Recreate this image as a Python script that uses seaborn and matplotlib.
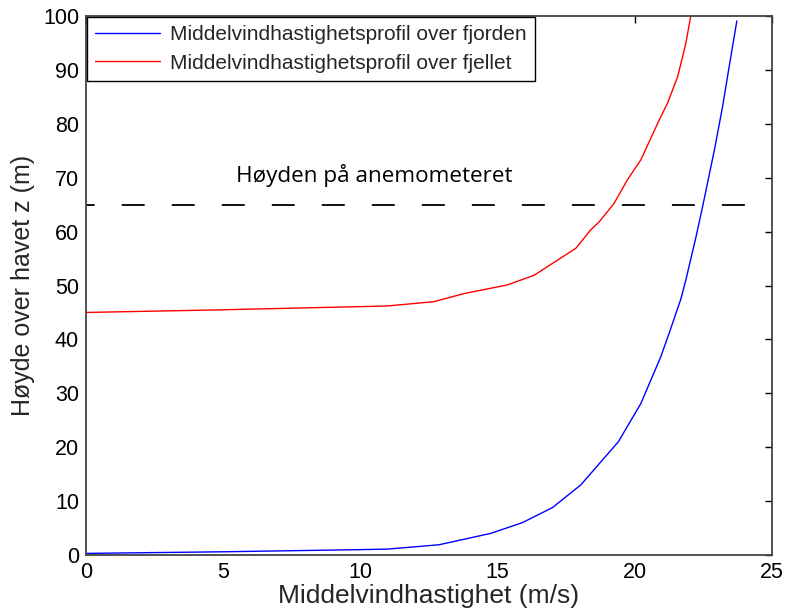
import matplotlib
matplotlib.use("Agg")
import matplotlib.pyplot as plt
import seaborn as sns
import pandas as pd

# Mean wind speed profiles (m/s) against height above sea level (m)
fjord_speed = [0, 5, 10, 11, 12.86, 14.74, 15.9, 17.0, 18.03, 18.51, 19.4, 20.22,
               20.95, 21.31, 21.68, 21.86, 22.23, 22.47, 22.9, 23.2, 23.44, 23.72]
fjord_height = [0.3, 0.6, 1.0, 1.1, 1.9, 4.0, 6.0, 8.8, 13.0, 15.8, 21.0, 28.1,
                36.8, 42.0, 47.5, 51.0, 59.0, 64.6, 75.1, 83.2, 90.6, 99.1]

mountain_speed = [0, 5, 10.97, 12.68, 13.77, 15.35, 16.33, 17.0, 17.85, 18.39, 18.7,
                  19.24, 19.73, 20.22, 20.89, 21.19, 21.56, 21.86, 22.04]
mountain_height = [45.0, 45.5, 46.2, 47.0, 48.5, 50.1, 51.9, 54.1, 56.9, 60.3, 61.8,
                   65.2, 69.6, 73.3, 80.7, 83.8, 88.7, 94.9, 100.0]

labels = ["Middelvindhastighetsprofil over fjorden",
          "Middelvindhastighetsprofil over fjellet"]
anemometer_height = 65
anemometer_text = "Høyden på anemometeret"
x_ticks = [0, 5, 10, 15, 20, 25]
y_ticks = [0, 10, 20, 30, 40, 50, 60, 70, 80, 90, 100]

sns.set_theme(style="white")
plt.rcParams["font.family"] = ["Liberation Sans", "DejaVu Sans"]

df = pd.concat([
    pd.DataFrame({"speed": fjord_speed, "height": fjord_height, "profil": labels[0]}),
    pd.DataFrame({"speed": mountain_speed, "height": mountain_height, "profil": labels[1]}),
])

fig = plt.figure(figsize=(7.85, 6.16), dpi=100)
ax = fig.add_axes([0.1096, 0.099, 0.8738, 0.875])

sns.lineplot(data=df, x="speed", y="height", hue="profil", sort=False,
             estimator=None, palette=["#0000ff", "#ff0000"], linewidth=1.0, ax=ax)

ax.axhline(anemometer_height, color="black", linewidth=1.3,
           linestyle=(7.9, (12.7, 15.0)))
ax.text(5.47, 69.2, anemometer_text, fontsize=16.2, family="Open Sans", color="black")

ax.set_xlim(0, 25)
ax.set_ylim(0, 100)
ax.set_xticks(x_ticks)
ax.set_yticks(y_ticks)
ax.tick_params(direction="in", length=5, width=1, top=True, right=True,
               labelsize=15.5, colors="black", pad=5)
for s in ax.spines.values():
    s.set_color("#444444")
    s.set_linewidth(1.3)

ax.set_xlabel("Middelvindhastighet (m/s)", fontsize=19, labelpad=1)
ax.set_ylabel("Høyde over havet z (m)", fontsize=18, labelpad=6)

leg = ax.legend(loc="upper left", fontsize=15, frameon=True, fancybox=False,
                borderaxespad=0.05, handlelength=3.1, handletextpad=0.5,
                labelspacing=0.45, borderpad=0.4)
leg.get_frame().set_edgecolor("black")
leg.get_frame().set_linewidth(1.0)
leg.get_frame().set_alpha(1)
leg.set_title(None)

fig.savefig("out.png", dpi=100)
